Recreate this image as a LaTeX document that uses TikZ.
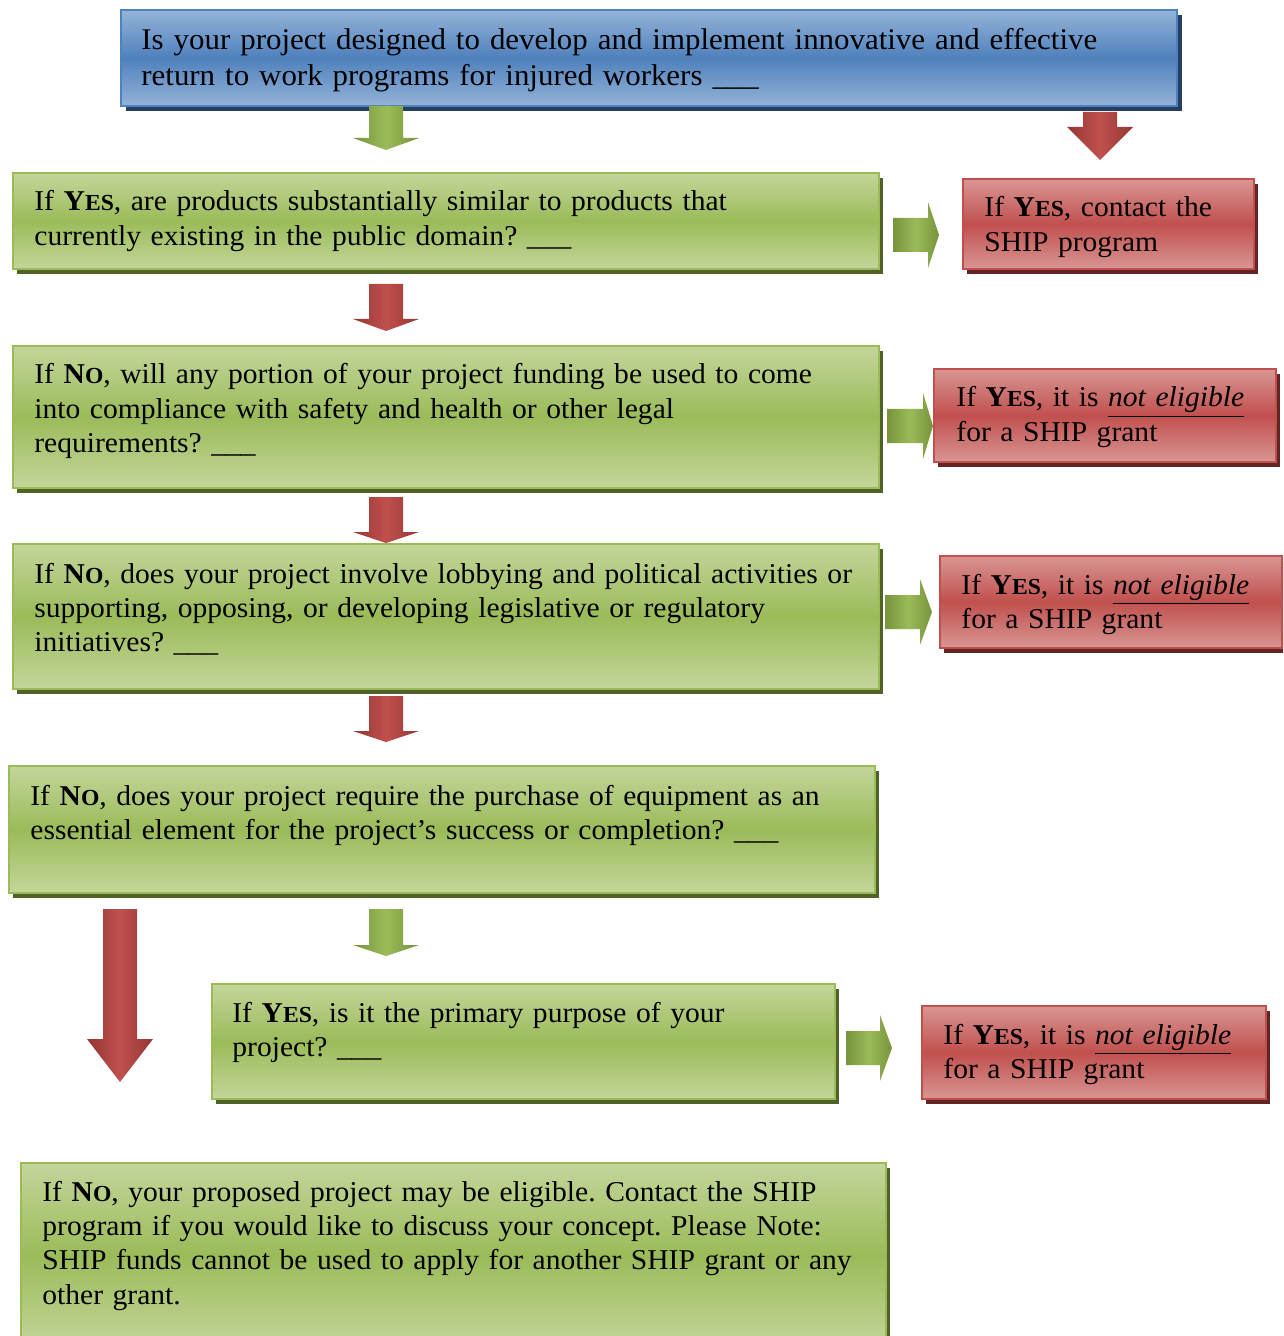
\documentclass[tikz,border=0pt]{standalone}
\usepackage{fontspec}
\setmainfont{Liberation Serif}[FakeStretch=1.03]
\usepackage{tikz}
\usetikzlibrary{shadows}

\definecolor{greenlight}{HTML}{C3D69B}
\definecolor{greenmid}{HTML}{9BBB59}
\definecolor{greendark}{HTML}{4F6228}
\definecolor{greenedge}{HTML}{77933C}
\definecolor{redlight}{HTML}{D99694}
\definecolor{redmid}{HTML}{C0504D}
\definecolor{reddark}{HTML}{632523}
\definecolor{rededge}{HTML}{943634}
\definecolor{bluelight}{HTML}{95B3D7}
\definecolor{bluemid}{HTML}{4F81BD}
\definecolor{bluedark}{HTML}{243F60}

\newcommand{\capyes}{\textbf{Y\scalebox{0.8}{ES}}}
\newcommand{\capno}{\textbf{N\scalebox{0.8}{O}}}
\newcommand{\noteligible}{\underline{\textit{not eligible}}}

\tikzset{
  box/.style={draw, line width=1pt, anchor=north west, inner sep=0pt},
  greenbox/.style={box, draw=greenmid, top color=greenlight, bottom color=greenlight, middle color=greenmid,
    drop shadow={shadow xshift=2pt, shadow yshift=-2.5pt, fill=greendark, opacity=1}},
  redbox/.style={box, draw=redmid, top color=redlight, bottom color=redlight, middle color=redmid,
    drop shadow={shadow xshift=2pt, shadow yshift=-2.5pt, fill=reddark, opacity=1}},
  bluebox/.style={box, draw=bluemid, top color=bluelight, bottom color=bluelight, middle color=bluemid,
    drop shadow={shadow xshift=2.5pt, shadow yshift=-2.5pt, fill=bluedark, opacity=1}},
  boxtext/.style={anchor=base west, inner sep=0pt, text width=540pt, align=left,
    font=\fontsize{14.35}{17.2}\selectfont\frenchspacing},
  bigtext/.style={boxtext, font=\fontsize{15}{17.6}\selectfont\frenchspacing},
  greenshade/.style={left color=greenedge, right color=greenedge, middle color=greenmid},
  redshade/.style={left color=rededge, right color=rededge, middle color=redmid},
  pics/downblock/.style n args={3}{code={
    \shade[#1] (-17,0) -- (17,0) -- (17,#2) -- (33,#2) -- (0,#3) -- (-33,#2) -- (-17,#2) -- cycle;}},
  pics/rightblock/.style n args={3}{code={
    \shade[#1] (0,-17) -- (#2,-17) -- (#2,-33) -- (#3,0) -- (#2,33) -- (#2,17) -- (0,17) -- cycle;}},
}

\begin{document}
\begin{tikzpicture}[x=0.5pt, y=-0.5pt]
    \useasboundingbox (0,0) rectangle (1283,1336);
    \clip (0,0) rectangle (1283,1336);

    % Boxes
    \node (start) [bluebox, minimum width=528pt, minimum height=48pt] at (120,9) {};
    \node (q1) [greenbox, minimum width=433pt, minimum height=48pt] at (12,172) {};
    \node (r1) [redbox, minimum width=145.5pt, minimum height=45pt] at (962,178) {};
    \node (q2) [greenbox, minimum width=433pt, minimum height=71pt] at (12,345) {};
    \node (r2) [redbox, minimum width=171pt, minimum height=46.5pt] at (933,368) {};
    \node (q3) [greenbox, minimum width=433pt, minimum height=72.5pt] at (12,543) {};
    \node (r3) [redbox, minimum width=171pt, minimum height=46pt] at (939,555) {};
    \node (q4) [greenbox, minimum width=433pt, minimum height=63.5pt] at (8,765) {};
    \node (q5) [greenbox, minimum width=311.5pt, minimum height=57.5pt] at (211,983) {};
    \node (r5) [redbox, minimum width=172pt, minimum height=46.5pt] at (921,1005) {};
    \node (q6) [greenbox, minimum width=432.5pt, minimum height=92.5pt] at (20,1162) {};

    % Texts
    \node (startText) [bigtext] at ([shift={(21,41)}]start.north west)
      {Is your project designed to develop and implement innovative and effective\\
       return to work programs for injured workers \_\_\_};
    \node (q1Text) [boxtext] at ([shift={(22,39)}]q1.north west)
      {If \capyes, are products substantially similar to products that\\
       currently existing in the public domain? \_\_\_};
    \node (r1Text) [boxtext] at ([shift={(22,39)}]r1.north west)
      {If \capyes, contact the\\ SHIP program};
    \node (q2Text) [boxtext] at ([shift={(22,39)}]q2.north west)
      {If \capno, will any portion of your project funding be used to come\\
       into compliance with safety and health or other legal\\
       requirements? \_\_\_};
    \node (r2Text) [boxtext] at ([shift={(23,39)}]r2.north west)
      {If \capyes, it is \noteligible\\ for a SHIP grant};
    \node (q3Text) [boxtext] at ([shift={(22,40)}]q3.north west)
      {If \capno, does your project involve lobbying and political activities or\\
       supporting, opposing, or developing legislative or regulatory\\
       initiatives? \_\_\_};
    \node (r3Text) [boxtext] at ([shift={(22,39)}]r3.north west)
      {If \capyes, it is \noteligible\\ for a SHIP grant};
    \node (q4Text) [boxtext] at ([shift={(22,40)}]q4.north west)
      {If \capno, does your project require the purchase of equipment as an\\
       essential element for the project’s success or completion? \_\_\_};
    \node (q5Text) [boxtext] at ([shift={(21,39)}]q5.north west)
      {If \capyes, is it the primary purpose of your\\ project? \_\_\_};
    \node (r5Text) [boxtext] at ([shift={(22,39)}]r5.north west)
      {If \capyes, it is \noteligible\\ for a SHIP grant};
    \node (q6Text) [boxtext] at ([shift={(22,39)}]q6.north west)
      {If \capno, your proposed project may be eligible. Contact the SHIP\\
       program if you would like to discuss your concept. Please Note:\\
       SHIP funds cannot be used to apply for another SHIP grant or any\\
       other grant.};

    % Block arrows
    \pic at (386,106) {downblock={greenshade}{32}{44}};
    \pic at (1100,112) {downblock={redshade}{15}{48}};
    \pic at (893,235) {rightblock={greenshade}{35}{46}};
    \pic at (386,284) {downblock={redshade}{35}{47}};
    \pic at (887,426) {rightblock={greenshade}{36}{46}};
    \pic at (386,497) {downblock={redshade}{35}{46}};
    \pic at (885,612) {rightblock={greenshade}{35}{47}};
    \pic at (386,696) {downblock={redshade}{35}{46}};
    \pic at (120,909) {downblock={redshade}{130}{173}};
    \pic at (386,909) {downblock={greenshade}{36}{47}};
    \pic at (846,1048) {rightblock={greenshade}{34}{46}};

\end{tikzpicture}
\end{document}
